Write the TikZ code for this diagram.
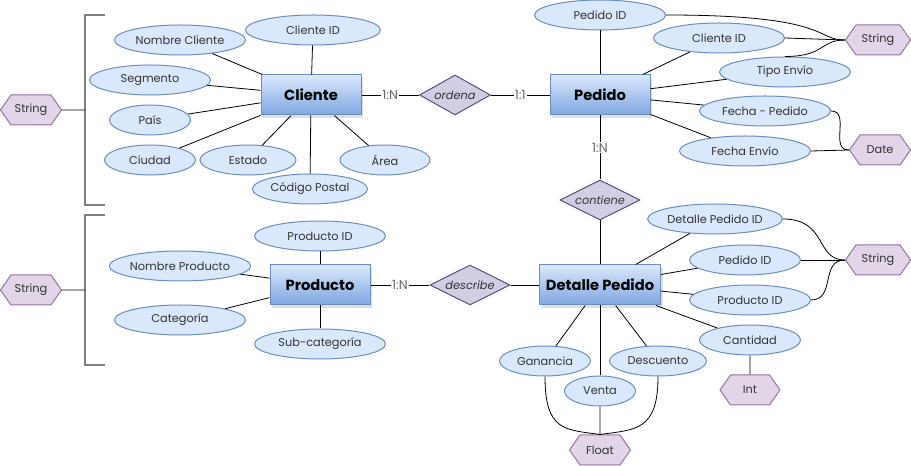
\documentclass[tikz,border=0pt]{standalone}
\usepackage{fontspec}
\setmainfont{Poppins}
\usepackage{tikz}
\usetikzlibrary{shapes.geometric,shapes.symbols,shadows}
\definecolor{entline}{HTML}{6C8EBF}
\definecolor{enttop}{HTML}{DAE8FC}
\definecolor{entbot}{HTML}{7EA6E0}
\definecolor{attfill}{HTML}{DAE8FC}
\definecolor{relfill}{HTML}{D0CEE2}
\definecolor{relline}{HTML}{56517E}
\definecolor{typfill}{HTML}{E1D5E7}
\definecolor{typline}{HTML}{9673A6}

\begin{document}
\begin{tikzpicture}[x=0.75pt,y=-0.75pt,
    ent/.style={draw=entline, line width=0.75pt, top color=enttop, bottom color=entbot,
      minimum height=30pt, minimum width=#1*0.75pt, inner sep=0pt,
      font=\bfseries\fontsize{11}{13}\selectfont,
      drop shadow={shadow xshift=1.5pt, shadow yshift=-2pt, opacity=0.25}},
    ent/.default=100,
    att/.style={draw=entline, line width=0.75pt, fill=attfill, ellipse, inner sep=0pt,
      minimum height=22.5pt, minimum width=#1*0.75pt, text=black!80,
      font=\fontsize{8.5}{10}\selectfont},
    att/.default=131,
    rel/.style={draw=relline, line width=0.75pt, fill=relfill, diamond, aspect=2, inner sep=0pt,
      minimum height=30pt, minimum width=#1*0.75pt, text=black!80,
      font=\itshape\fontsize{8.5}{10}\selectfont},
    rel/.default=80,
    typ/.style={draw=typline, line width=0.75pt, fill=typfill, signal, signal to=east and west,
      signal pointer angle=110, inner sep=0pt, minimum height=22.5pt,
      minimum width=#1*0.75pt, text=black!80, font=\fontsize{8.5}{10}\selectfont},
    typ/.default=61,
    card/.style={fill=white, inner sep=1pt, text=black!60, font=\fontsize{9.5}{11}\selectfont},
    ln/.style={line width=0.6pt},
    brk/.style={draw=black!50, line width=1.5pt},
  ]
  \useasboundingbox (0,0) rectangle (911,466);

  \node[ent] (cli) at (311,95) {Cliente};
  \node[ent] (ped) at (600,95) {Pedido};
  \node[ent] (pro) at (320,285) {Producto};
  \node[ent=121] (det) at (600,285) {Detalle Pedido};

  \node[rel=71] (ord) at (455,95) {ordena};
  \node[rel] (con) at (600,200) {contiene};
  \node[rel] (des) at (470,285) {describe};

  \node[att=135] (cliid) at (313,30) {Cliente ID};
  \node[att] (cnom) at (180,40) {Nombre Cliente};
  \node[att=121] (cseg) at (150,80) {Segmento};
  \node[att=81] (cpai) at (150,120) {País};
  \node[att=91] (cciu) at (150,160) {Ciudad};
  \node[att=96] (cest) at (248,160) {Estado};
  \node[att=90] (care) at (385,160) {Área};
  \node[att=115] (ccod) at (310,189) {Código Postal};

  \node[att] (pid) at (600,15) {Pedido ID};
  \node[att] (pcli) at (719,38) {Cliente ID};
  \node[att] (ptip) at (785,72) {Tipo Envío};
  \node[att] (pfp) at (765,111) {Fecha - Pedido};
  \node[att] (pfe) at (745,151) {Fecha Envío};

  \node[att] (prid) at (320,236) {Producto ID};
  \node[att] (prnom) at (180,266) {Nombre Producto};
  \node[att] (prcat) at (180,320) {Categoría};
  \node[att] (prsub) at (320,344) {Sub-categoría};

  \node[att] (did) at (715,219) {Detalle Pedido ID};
  \node[att=111] (dped) at (745,260) {Pedido ID};
  \node[att=121] (dpro) at (750,300) {Producto ID};
  \node[att=101] (dcan) at (750,340) {Cantidad};
  \node[att=91] (dgan) at (545,361) {Ganancia};
  \node[att=71] (dven) at (600,391) {Venta};
  \node[att=97] (ddes) at (658,361) {Descuento};

  \node[typ] (strA) at (31,110) {String};
  \node[typ] (strB) at (31,290) {String};
  \node[typ=65] (strC) at (878,40) {String};
  \node[typ] (dat) at (880,150) {Date};
  \node[typ=65] (strD) at (878,260) {String};
  \node[typ=60] (int) at (750,390) {Int};
  \node[typ] (flt) at (600,450) {Float};

  \coordinate (brA) at (85,110);
  \coordinate (brB) at (85,290);

  \draw[brk] (105,15) -- (85,15) -- (85,205) -- (105,205);
  \draw[brk] (105,215) -- (85,215) -- (85,365) -- (105,365);
  \draw[ln] (strA) -- (brA);
  \draw[ln] (strB) -- (brB);

  \draw[ln] (cli) -- node[card] {1:N} (ord);
  \draw[ln] (ord) -- node[card] {1:1} (ped);
  \draw[ln] (ped) -- node[card] {1:N} (con);
  \draw[ln] (con) -- (det);
  \draw[ln] (pro) -- node[card] {1:N} (des);
  \draw[ln] (des) -- (det);

  \foreach \a in {cliid,cnom,cseg,cpai,cciu,cest,care,ccod}
    \draw[ln] (\a) -- (cli);
  \foreach \a in {pid,pcli,ptip,pfp,pfe}
    \draw[ln] (\a) -- (ped);
  \foreach \a in {prid,prnom,prcat,prsub}
    \draw[ln] (\a) -- (pro);
  \foreach \a in {did,dped,dpro,dcan,dgan,dven,ddes}
    \draw[ln] (\a) -- (det);

  \draw[ln] (pid.east) .. controls +(165,0) and +(-30,0) .. (strC.west);
  \draw[ln] (pcli.east) -- (strC.west);
  \draw[ln] (ptip.north) .. controls +(40,0) and +(-25,0) .. (strC.west);
  \draw[ln] (pfp.east) .. controls +(20,0) and +(-20,0) .. (dat.west);
  \draw[ln] (pfe.east) -- (dat.west);

  \draw[ln] (did.east) .. controls +(45,0) and +(-30,0) .. (strD.west);
  \draw[ln] (dped.east) -- (strD.west);
  \draw[ln] (dpro.east) .. controls +(25,0) and +(-25,0) .. (strD.west);
  \draw[ln] (dcan) -- (int);
  \draw[ln] (dgan.south) .. controls +(0,55) and +(-35,-5) .. (flt.north);
  \draw[ln] (dven) -- (flt);
  \draw[ln] (ddes.south) .. controls +(0,55) and +(35,-5) .. (flt.north);
\end{tikzpicture}
\end{document}
